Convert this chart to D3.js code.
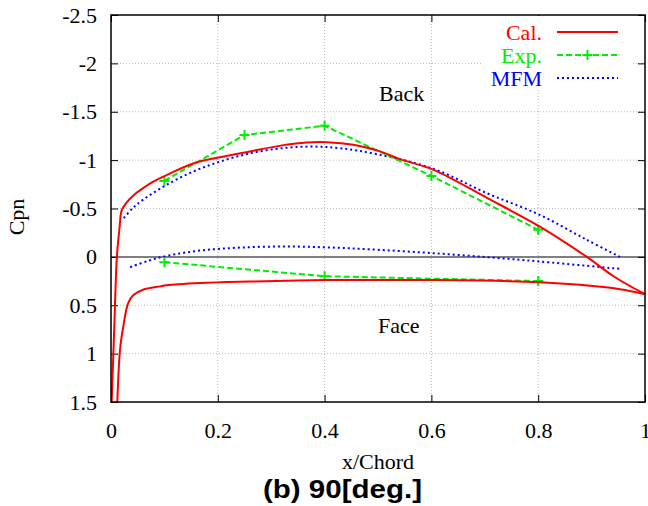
<!DOCTYPE html>
<html>
<head>
<meta charset="utf-8">
<script src="https://cdn.jsdelivr.net/npm/d3@7"></script>
<style>
  body { margin: 0; background: #fff; }
  svg { display: block; }
  .tick text { font-family: "Liberation Serif", "Times New Roman", serif; font-size: 22px; fill: #000; }
</style>
</head>
<body>
<svg width="648" height="506"></svg>
<script>
// Data (x/Chord, Cpn)
const calUpper = [[0.0013,1.5],[0.006,0.75],[0.011,0.0],[0.016,-0.3],[0.020,-0.48],[0.029,-0.56],[0.045,-0.65],[0.06,-0.71],[0.08,-0.78],[0.104,-0.845],[0.154,-0.965],[0.204,-1.03],[0.26,-1.09],[0.323,-1.155],[0.366,-1.182],[0.404,-1.185],[0.454,-1.158],[0.504,-1.09],[0.541,-1.01],[0.604,-0.9],[0.704,-0.61],[0.803,-0.313],[0.891,0.0],[0.941,0.2],[1.0,0.386]];
const calLower = [[0.0118,1.5],[0.0169,0.96],[0.023,0.72],[0.032,0.48],[0.042,0.395],[0.06,0.34],[0.092,0.305],[0.104,0.293],[0.167,0.27],[0.26,0.255],[0.404,0.24],[0.541,0.238],[0.691,0.245],[0.803,0.262],[0.878,0.289],[0.953,0.334],[1.0,0.386]];
const expUpper = [[0.1,-0.785],[0.25,-1.26],[0.4,-1.355],[0.6,-0.837],[0.8,-0.28]];
const expLower = [[0.1,0.055],[0.4,0.2],[0.8,0.25]];
const mfmUpper = [[0.024,-0.40],[0.04,-0.5],[0.06,-0.59],[0.104,-0.744],[0.154,-0.882],[0.204,-0.985],[0.26,-1.07],[0.323,-1.125],[0.379,-1.14],[0.429,-1.123],[0.497,-1.062],[0.604,-0.91],[0.704,-0.658],[0.803,-0.434],[0.891,-0.176],[0.953,0.0]];
const mfmLower = [[0.036,0.107],[0.07,0.04],[0.104,-0.01],[0.167,-0.065],[0.242,-0.096],[0.329,-0.107],[0.416,-0.096],[0.504,-0.072],[0.604,-0.038],[0.704,0.003],[0.803,0.048],[0.953,0.124]];

const seriesNames = ["Cal.", "Exp.", "MFM"];
const xTicks = [0, 0.2, 0.4, 0.6, 0.8, 1];
const yTicks = [-2.5, -2, -1.5, -1, -0.5, 0, 0.5, 1, 1.5];

const margin = {top: 15, right: 3, bottom: 104, left: 111},
      width = 648 - margin.left - margin.right,
      height = 506 - margin.top - margin.bottom;

const colors = {"Cal.": "#ff0000", "Exp.": "#00ee00", "MFM": "#0000ff"};
const dashes = {"Cal.": null, "Exp.": "6,3", "MFM": "2,3"};

const svg = d3.select("svg")
  .append("g")
  .attr("transform", `translate(${margin.left},${margin.top})`);

const x = d3.scaleLinear().domain([0, 1]).range([0, width]);
const y = d3.scaleLinear().domain([-2.5, 1.5]).range([0, height]);

// grid lines (dotted)
svg.append("g").selectAll("line")
  .data(xTicks.slice(1, -1))
  .enter().append("line")
  .attr("x1", d => x(d)).attr("x2", d => x(d))
  .attr("y1", 0).attr("y2", height)
  .attr("stroke", "#bbb").attr("stroke-dasharray", "1,2");
svg.append("g").selectAll("line")
  .data(yTicks.filter(d => d !== 0 && d !== -2.5 && d !== 1.5))
  .enter().append("line")
  .attr("x1", 0).attr("x2", width)
  .attr("y1", d => y(d)).attr("y2", d => y(d))
  .attr("stroke", "#bbb").attr("stroke-dasharray", "1,2");

// zero line
svg.append("line")
  .attr("x1", 0).attr("x2", width)
  .attr("y1", y(0)).attr("y2", y(0))
  .attr("stroke", "#555").attr("stroke-width", 1.5);

// axes with inside ticks
const fmt = d => String(d);
svg.append("g")
  .call(d3.axisLeft(y).tickValues(yTicks).tickFormat(fmt).tickSize(-7).tickSizeOuter(0).tickPadding(14))
  .call(g => g.select(".domain").remove());
svg.append("g")
  .attr("transform", `translate(0,${height})`)
  .call(d3.axisBottom(x).tickValues(xTicks).tickFormat(fmt).tickSize(-7).tickSizeOuter(0).tickPadding(20))
  .call(g => g.select(".domain").remove());
svg.append("g")
  .attr("transform", `translate(${width},0)`)
  .call(d3.axisRight(y).tickValues(yTicks).tickFormat("").tickSize(-7).tickSizeOuter(0))
  .call(g => g.select(".domain").remove());
svg.append("g")
  .call(d3.axisTop(x).tickValues(xTicks).tickFormat("").tickSize(-7).tickSizeOuter(0))
  .call(g => g.select(".domain").remove());

// clip
svg.append("clipPath").attr("id", "clip")
  .append("rect").attr("width", width).attr("height", height);
const plot = svg.append("g").attr("clip-path", "url(#clip)");

const smooth = d3.line().x(d => x(d[0])).y(d => y(d[1])).curve(d3.curveCatmullRom);
const straight = d3.line().x(d => x(d[0])).y(d => y(d[1]));

[mfmUpper, mfmLower].forEach(s => {
  plot.append("path").attr("d", smooth(s))
    .attr("fill", "none").attr("stroke", colors["MFM"])
    .attr("stroke-width", 2).attr("stroke-dasharray", dashes["MFM"]);
});
[expUpper, expLower].forEach(s => {
  plot.append("path").attr("d", straight(s))
    .attr("fill", "none").attr("stroke", colors["Exp."])
    .attr("stroke-width", 2).attr("stroke-dasharray", dashes["Exp."]);
  plot.selectAll(null).data(s).enter().append("path")
    .attr("d", d => `M${x(d[0]) - 5},${y(d[1])}h10M${x(d[0])},${y(d[1]) - 5}v10`)
    .attr("stroke", colors["Exp."]).attr("stroke-width", 2);
});
[calUpper, calLower].forEach(s => {
  plot.append("path").attr("d", smooth(s))
    .attr("fill", "none").attr("stroke", colors["Cal."])
    .attr("stroke-width", 2);
});

// frame
svg.append("rect")
  .attr("width", width).attr("height", height)
  .attr("fill", "none").attr("stroke", "#000").attr("stroke-width", 1.5);

// labels inside plot
const serif = "'Liberation Serif', 'Times New Roman', serif";
svg.append("text").attr("x", 268).attr("y", 86).attr("font-family", serif)
  .attr("font-size", "22px").text("Back");
svg.append("text").attr("x", 267).attr("y", 318).attr("font-family", serif)
  .attr("font-size", "22px").text("Face");

// legend
const legend = svg.append("g").attr("transform", `translate(${370 - margin.left + 111},0)`);
legend.append("rect").attr("x", 0).attr("y", 1).attr("width", 152).attr("height", 72)
  .attr("fill", "#fff");
seriesNames.forEach((name, i) => {
  const ly = 17 + i * 23;
  legend.append("text")
    .attr("x", 61).attr("y", ly + 8)
    .attr("text-anchor", "end")
    .attr("font-family", serif).attr("font-size", "22px")
    .attr("fill", colors[name]).text(name);
  legend.append("line")
    .attr("x1", 76).attr("x2", 137).attr("y1", ly).attr("y2", ly)
    .attr("stroke", colors[name]).attr("stroke-width", 2)
    .attr("stroke-dasharray", dashes[name]);
  if (name === "Exp.") {
    legend.append("path")
      .attr("d", `M${106.5 - 5},${ly}h10M${106.5},${ly - 5}v10`)
      .attr("stroke", colors[name]).attr("stroke-width", 2);
  }
});

// axis titles
svg.append("text")
  .attr("x", width / 2).attr("y", 454)
  .attr("text-anchor", "middle")
  .attr("font-family", serif).attr("font-size", "22px")
  .text("x/Chord");
svg.append("text")
  .attr("transform", `translate(${24 - margin.left},${217 - margin.top}) rotate(-90)`)
  .attr("text-anchor", "middle")
  .attr("font-family", serif).attr("font-size", "22px")
  .text("Cpn");

// caption
svg.append("text")
  .attr("x", 342.5 - margin.left).attr("y", 498 - margin.top)
  .attr("text-anchor", "middle")
  .attr("font-family", "'Liberation Sans', Arial, sans-serif")
  .attr("font-weight", "bold").attr("font-size", "25px")
  .attr("textLength", 159).attr("lengthAdjust", "spacingAndGlyphs")
  .text("(b) 90[deg.]");
</script>
</body>
</html>
